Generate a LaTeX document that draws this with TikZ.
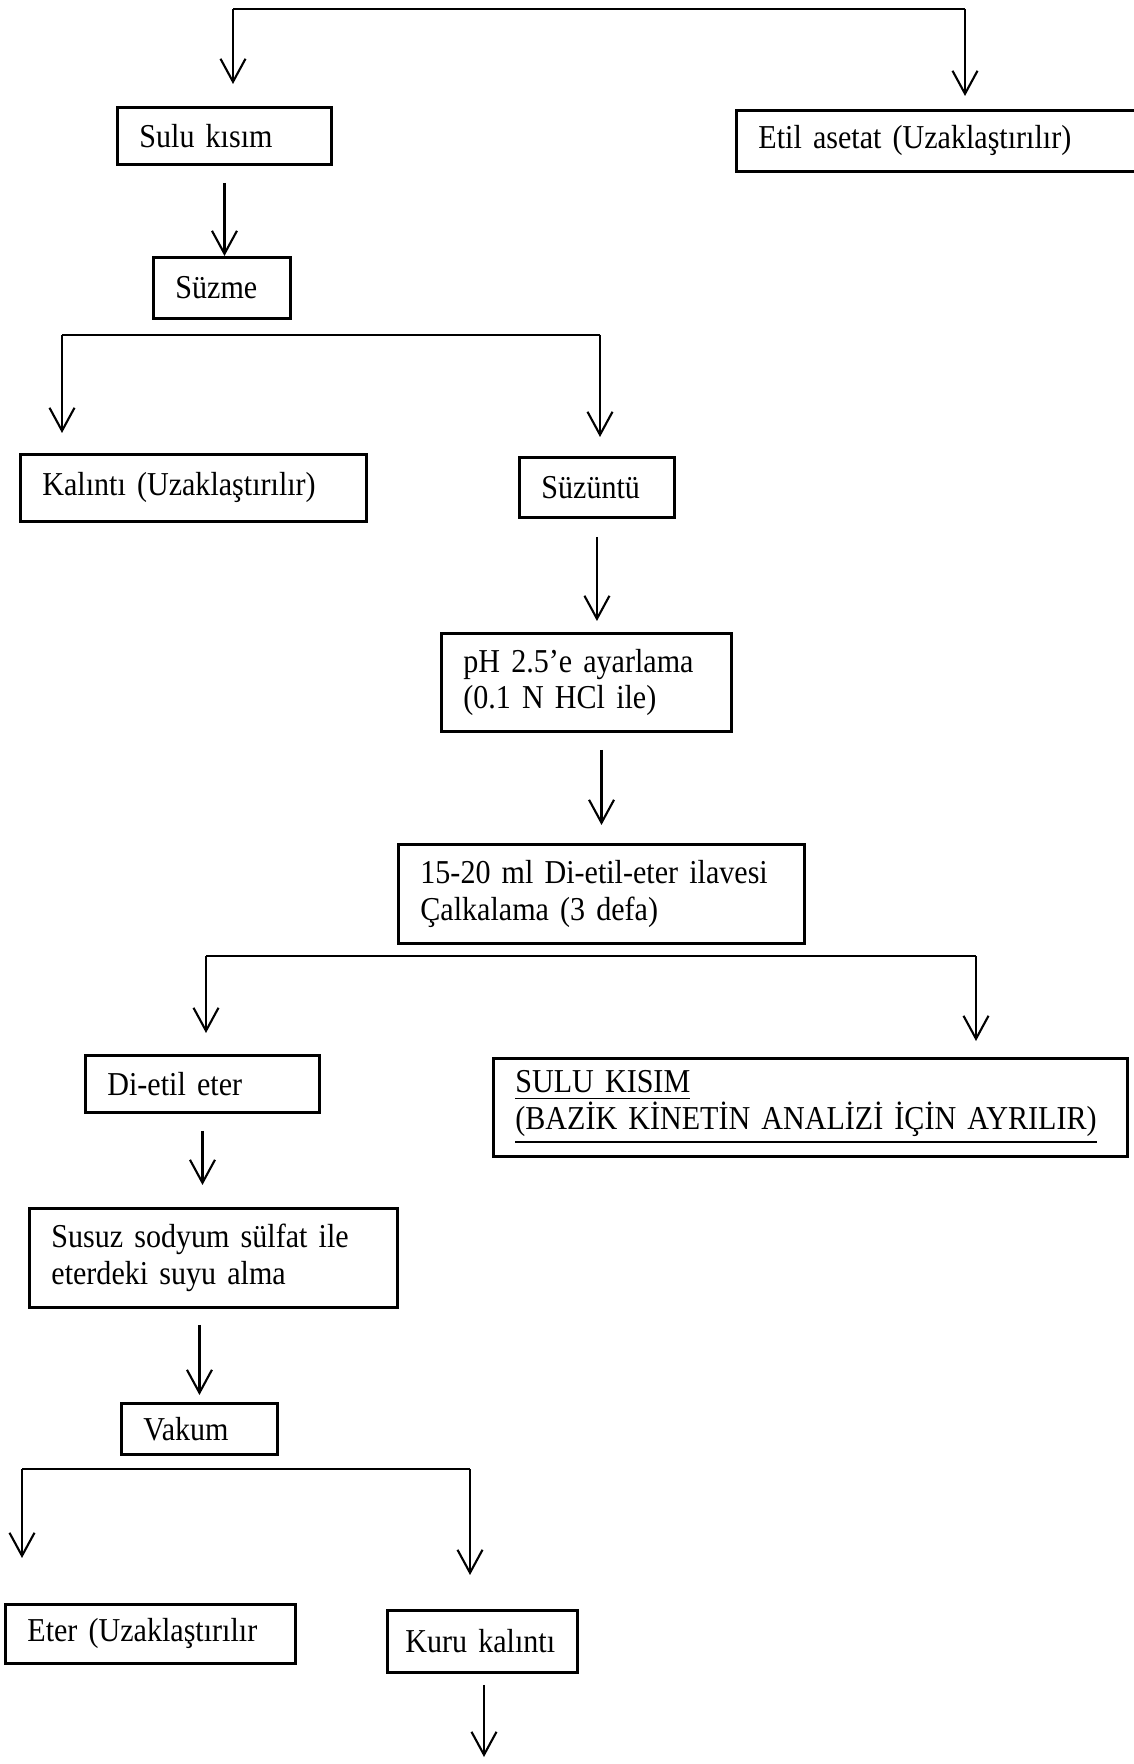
\documentclass[tikz,border=0pt]{standalone}
\usepackage{fontspec}
\setmainfont{Liberation Serif}[FakeStretch=0.9]
\usepackage{tikz}
\usetikzlibrary{
    positioning,
    arrows.meta
}
\DeclareRobustCommand\kutufont{%
    \fontsize{9.5}{10.5}\selectfont
    \spaceskip=0.24em plus 0.1em\relax
}
\tikzset{
    >={Straight Barb[length=2.3mm,width=2.5mm]},
    kutu/.style={
        draw,
        line width=0.8pt,
        anchor=north west,
        align=left,
        inner xsep=0.22cm,
        inner ysep=0pt,
        font=\kutufont
    },
    ok/.style={
        ->,
        line width=0.6pt
    },
    kol/.style={
        line width=0.8pt
    }
}

\begin{document}
\begin{tikzpicture}[
    x=0.01cm,
    y=-0.01cm
]

    \useasboundingbox (0,0) rectangle (1133,1764);

    % Kutular
    \node[kutu, text width=1.70cm, minimum height=0.57cm] (sulu)    at (116,106)  {Sulu kısım};
    \node[kutu, text width=3.66cm, minimum height=0.61cm] (etil)    at (735,109)  {Etil asetat (Uzaklaştırılır)};

    \node[kutu, text width=0.93cm, minimum height=0.61cm] (suzme)   at (152,256)  {Süzme};

    \node[kutu, text width=3.02cm, minimum height=0.67cm] (kalinti) at (19,453)   {Kalıntı (Uzaklaştırılır)};
    \node[kutu, text width=1.11cm, minimum height=0.60cm] (suzuntu) at (518,456)  {Süzüntü};

    \node[kutu, text width=2.46cm, minimum height=0.98cm] (ph)      at (440,632)  {pH 2.5’e ayarlama\\(0.1 N HCl ile)};
    \node[kutu, text width=3.62cm, minimum height=0.99cm] (eterekle) at (397,843) {15-20 ml Di-etil-eter ilavesi\\Çalkalama (3 defa)};

    \node[kutu, text width=1.90cm, minimum height=0.57cm] (dietil)  at (84,1054)  {Di-etil eter};
    \node[kutu, text width=5.90cm, minimum height=0.98cm] (sulubuyuk) at (492,1057)
        {\underline{SULU KISIM}\\\underline{(BAZİK KİNETİN ANALİZİ İÇİN AYRILIR)}};

    \node[kutu, text width=3.24cm, minimum height=0.99cm] (susuz)   at (28,1207)  {Susuz sodyum sülfat ile\\eterdeki suyu alma};

    \node[kutu, text width=1.12cm, minimum height=0.51cm] (vakum)   at (120,1402) {Vakum};

    \node[kutu, text width=2.46cm, minimum height=0.59cm] (eter)    at (4,1603)   {Eter (Uzaklaştırılır};
    \node[kutu, text width=1.54cm, minimum height=0.62cm, inner xsep=0.18cm] (kuru) at (386,1609) {Kuru kalıntı};

    % Dal noktalari
    \coordinate (u1) at (233,9);
    \coordinate (u2) at (965,9);
    \coordinate (s1) at (62,335);
    \coordinate (s2) at (600,335);
    \coordinate (d1) at (206,956);
    \coordinate (d2) at (976,956);
    \coordinate (v1) at (22,1469);
    \coordinate (v2) at (470,1469);
    \coordinate (son) at (484,1757);

    \draw[kol] (u1) -- (u2);
    \draw[kol] (s1) -- (s2);
    \draw[kol] (d1) -- (d2);
    \draw[kol] (v1) -- (v2);

    % Oklar
    \path[ok]

        % En ustteki dal
        (u1)
            edge[shorten >=0.22cm] (u1 |- sulu.north)
        (u2)
            edge[shorten >=0.13cm] (u2 |- etil.north)

        % Sulu kisim
        (sulu.south)
            edge[shorten <=0.17cm] (sulu.south |- suzme.north)

        % Suzme dali
        (s1)
            edge[shorten >=0.20cm] (s1 |- kalinti.north)
        (s2)
            edge[shorten >=0.19cm] (s2 |- suzuntu.north)

        % Suzuntu ve pH
        (suzuntu.south)
            edge[shorten <=0.18cm, shorten >=0.11cm] (suzuntu.south |- ph.north)
        (eterekle.north |- ph.south)
            edge[shorten <=0.17cm, shorten >=0.18cm] (eterekle.north)

        % Eter dali
        (d1)
            edge[shorten >=0.21cm] (d1 |- dietil.north)
        (d2)
            edge[shorten >=0.16cm] (d2 |- sulubuyuk.north)

        % Di-etil eter asagi
        (dietil.south)
            edge[shorten <=0.17cm, shorten >=0.22cm] (dietil.south |- susuz.north)
        (vakum.north |- susuz.south)
            edge[shorten <=0.16cm, shorten >=0.07cm] (vakum.north)

        % Vakum dali
        (v1)
            edge[shorten >=0.45cm] (v1 |- eter.north)
        (v2)
            edge[shorten >=0.34cm] (v2 |- kuru.north)

        % Kuru kalinti
        (son |- kuru.south)
            edge[shorten <=0.11cm] (son);

\end{tikzpicture}
\end{document}
